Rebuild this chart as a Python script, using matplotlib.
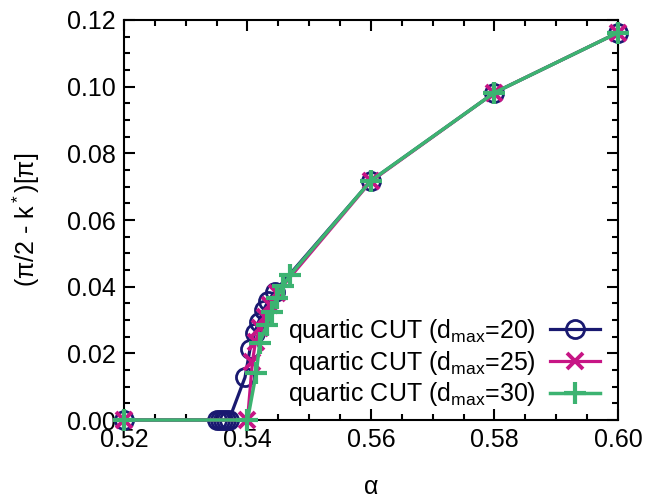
import matplotlib
matplotlib.use('Agg')
import matplotlib.pyplot as plt
from matplotlib.ticker import MultipleLocator, FormatStrFormatter

plt.rcParams['font.family'] = ['Liberation Sans', 'DejaVu Sans']
plt.rcParams['mathtext.fontset'] = 'custom'
plt.rcParams['mathtext.rm'] = 'Liberation Sans'
plt.rcParams['mathtext.it'] = 'Liberation Sans:italic'
plt.rcParams['mathtext.default'] = 'regular'

# d_max = 20
alpha20 = [0.52, 0.535, 0.5355, 0.536, 0.5365, 0.537, 0.5396, 0.5404, 0.5412,
           0.5418, 0.5426, 0.5434, 0.5444, 0.56, 0.58, 0.60]
k20 = [0, 0, 0, 0, 0, 0, 0.0128, 0.0212, 0.0262, 0.0295, 0.0330, 0.0358, 0.0385,
       0.0718, 0.0982, 0.1162]
# d_max = 25
alpha25 = [0.52, 0.54, 0.5408, 0.5413, 0.5420, 0.5428, 0.5437, 0.5447, 0.56, 0.58, 0.60]
k25 = [0, 0, 0.0175, 0.0235, 0.0275, 0.031, 0.0345, 0.038, 0.0716, 0.0982, 0.1162]
# d_max = 30
alpha30 = [0.52, 0.54, 0.5414, 0.542, 0.5431, 0.5439, 0.5447, 0.5457, 0.5469,
           0.56, 0.58, 0.60]
k30 = [0, 0, 0.014, 0.0232, 0.0285, 0.0325, 0.0365, 0.0402, 0.0435, 0.0718,
       0.0982, 0.1162]

labels = ['quartic CUT (d$_{max}$=20)', 'quartic CUT (d$_{max}$=25)',
          'quartic CUT (d$_{max}$=30)']

fig = plt.figure(figsize=(6.47, 5.0), dpi=100)
ax = fig.add_axes([0.1917, 0.16, 0.7633, 0.80])

ax.plot(alpha20, k20, color='#191970', lw=2.3, marker='o', ms=13, mfc='none',
        mew=2.0, clip_on=False, label=labels[0], zorder=3)
ax.plot(alpha25, k25, color='#c71585', lw=2.3, marker='x', ms=12,
        mew=2.8, clip_on=False, label=labels[1], zorder=4)
ax.plot(alpha30, k30, color='#3cb371', lw=2.5, marker='+', ms=16,
        mew=3.0, clip_on=False, label=labels[2], zorder=5)

ax.set_xlim(0.52, 0.60)
ax.set_ylim(0, 0.12)
ax.xaxis.set_major_locator(MultipleLocator(0.02))
ax.xaxis.set_minor_locator(MultipleLocator(0.005))
ax.yaxis.set_major_locator(MultipleLocator(0.02))
ax.yaxis.set_minor_locator(MultipleLocator(0.005))
ax.xaxis.set_major_formatter(FormatStrFormatter('%.2f'))
ax.yaxis.set_major_formatter(FormatStrFormatter('%.2f'))
ax.tick_params(which='both', direction='in', top=True, right=True,
               labelsize=18, width=1.5)
ax.tick_params(which='major', length=8, pad=6)
ax.tick_params(which='minor', length=4)
for s in ax.spines.values():
    s.set_linewidth(1.5)

ax.set_xlabel('α', fontsize=18, labelpad=16)
ax.set_ylabel('(π/2 - k$^*$)[π]', fontsize=18, labelpad=18)

ax.legend(loc='lower right', bbox_to_anchor=(1.0, -0.015), frameon=False,
          markerfirst=False, fontsize=18, handlelength=2.0,
          labelspacing=0.15, handletextpad=0.6, borderaxespad=0.3)

fig.savefig('out.png', dpi=100)
